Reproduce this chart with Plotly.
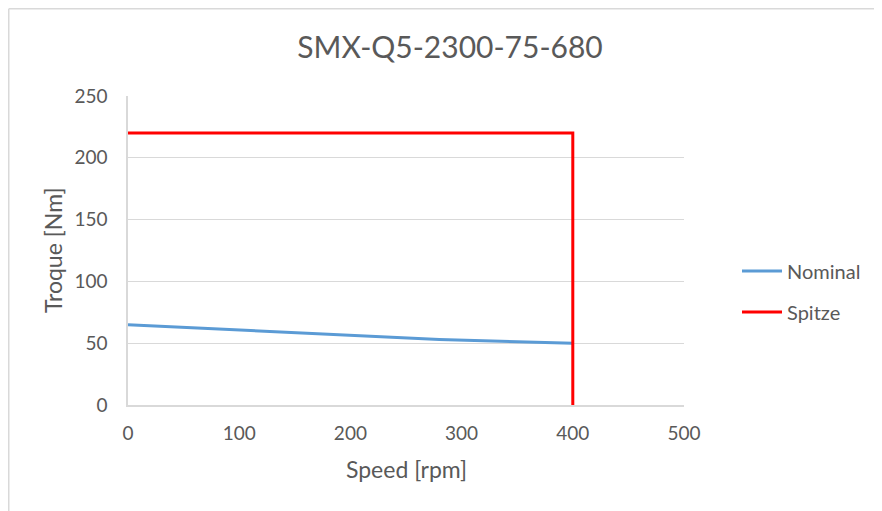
import plotly.graph_objects as go

nominal_speed = [0, 280, 400]
nominal_torque = [65, 53, 50]
spitze_speed = [0, 400, 400]
spitze_torque = [220, 220, 0]

x_ticks = [0, 100, 200, 300, 400, 500]
y_ticks = [0, 50, 100, 150, 200, 250]

txt = "#595959"
grid = "#d9d9d9"
font_fam = "Lato, Open Sans, sans-serif"

O = 8  # page offset of the figure (body margin)
W, H = 882 - O, 511 - O
PL, PR, PT, PB = 128, 684, 96, 405  # plot area in page coords
L, T = PL - O, PT - O
R, B = W - (PR - O), H - (PB - O)
pw, ph = PR - PL, PB - PT


def px(x):
    return (x - PL) / pw


def py(y):
    return (PB - y) / ph


fig = go.Figure()
fig.add_trace(go.Scatter(x=nominal_speed, y=nominal_torque, mode="lines", name="Nominal",
                         line=dict(color="#5B9BD5", width=3, shape="spline", smoothing=0.3),
                         legend="legend"))
fig.add_trace(go.Scatter(x=spitze_speed, y=spitze_torque, mode="lines", name="Spitze",
                         line=dict(color="#FF0000", width=3), legend="legend2"))

leg_common = dict(xref="paper", yref="paper", xanchor="left", yanchor="middle",
                  font=dict(size=20, color=txt, family=font_fam),
                  bgcolor="rgba(0,0,0,0)", itemwidth=40)

bx = O + 0.75
fig.update_layout(
    width=W, height=H,
    margin=dict(l=L, r=R, t=T, b=B, pad=0),
    paper_bgcolor="white", plot_bgcolor="white",
    font=dict(family=font_fam, color=txt, size=19),
    title=dict(text="SMX-Q5-2300-75-680", x=px(450), xref="paper", xanchor="center",
               y=1 - (47 - O) / H, yanchor="middle", font=dict(size=30, color=txt, family=font_fam)),
    legend=dict(x=px(737), y=py(271), **leg_common),
    legend2=dict(x=px(737), y=py(312), **leg_common),
    showlegend=True,
    shapes=[
        dict(type="line", xref="paper", yref="paper", x0=px(bx), x1=px(bx),
             y0=py(bx), y1=py(530), line=dict(color=grid, width=1.5)),
        dict(type="line", xref="paper", yref="paper", x0=px(bx), x1=px(900),
             y0=py(bx), y1=py(bx), line=dict(color=grid, width=1.5)),
    ],
    annotations=[
        dict(text="Speed [rpm]", xref="paper", yref="paper", x=px(406), y=py(469),
             xanchor="center", yanchor="middle", showarrow=False,
             font=dict(size=23, color=txt, family=font_fam)),
        dict(text="Troque [Nm]", xref="paper", yref="paper", x=px(53), y=py(251),
             xanchor="center", yanchor="middle", showarrow=False, textangle=-90,
             font=dict(size=23, color=txt, family=font_fam)),
    ],
)
fig.update_xaxes(range=[0, 500], tickvals=x_ticks, showgrid=False, zeroline=False,
                 showline=True, linecolor=grid, linewidth=1.5,
                 tickfont=dict(size=19, color=txt), ticks="", ticklabelstandoff=10)
fig.update_yaxes(range=[0, 250], tickvals=y_ticks, showgrid=True, gridcolor=grid, gridwidth=1,
                 zeroline=False, showline=True, linecolor=grid, linewidth=1.5,
                 tickfont=dict(size=19, color=txt), ticks="", ticklabelstandoff=15)

fig.write_html("out.html")
